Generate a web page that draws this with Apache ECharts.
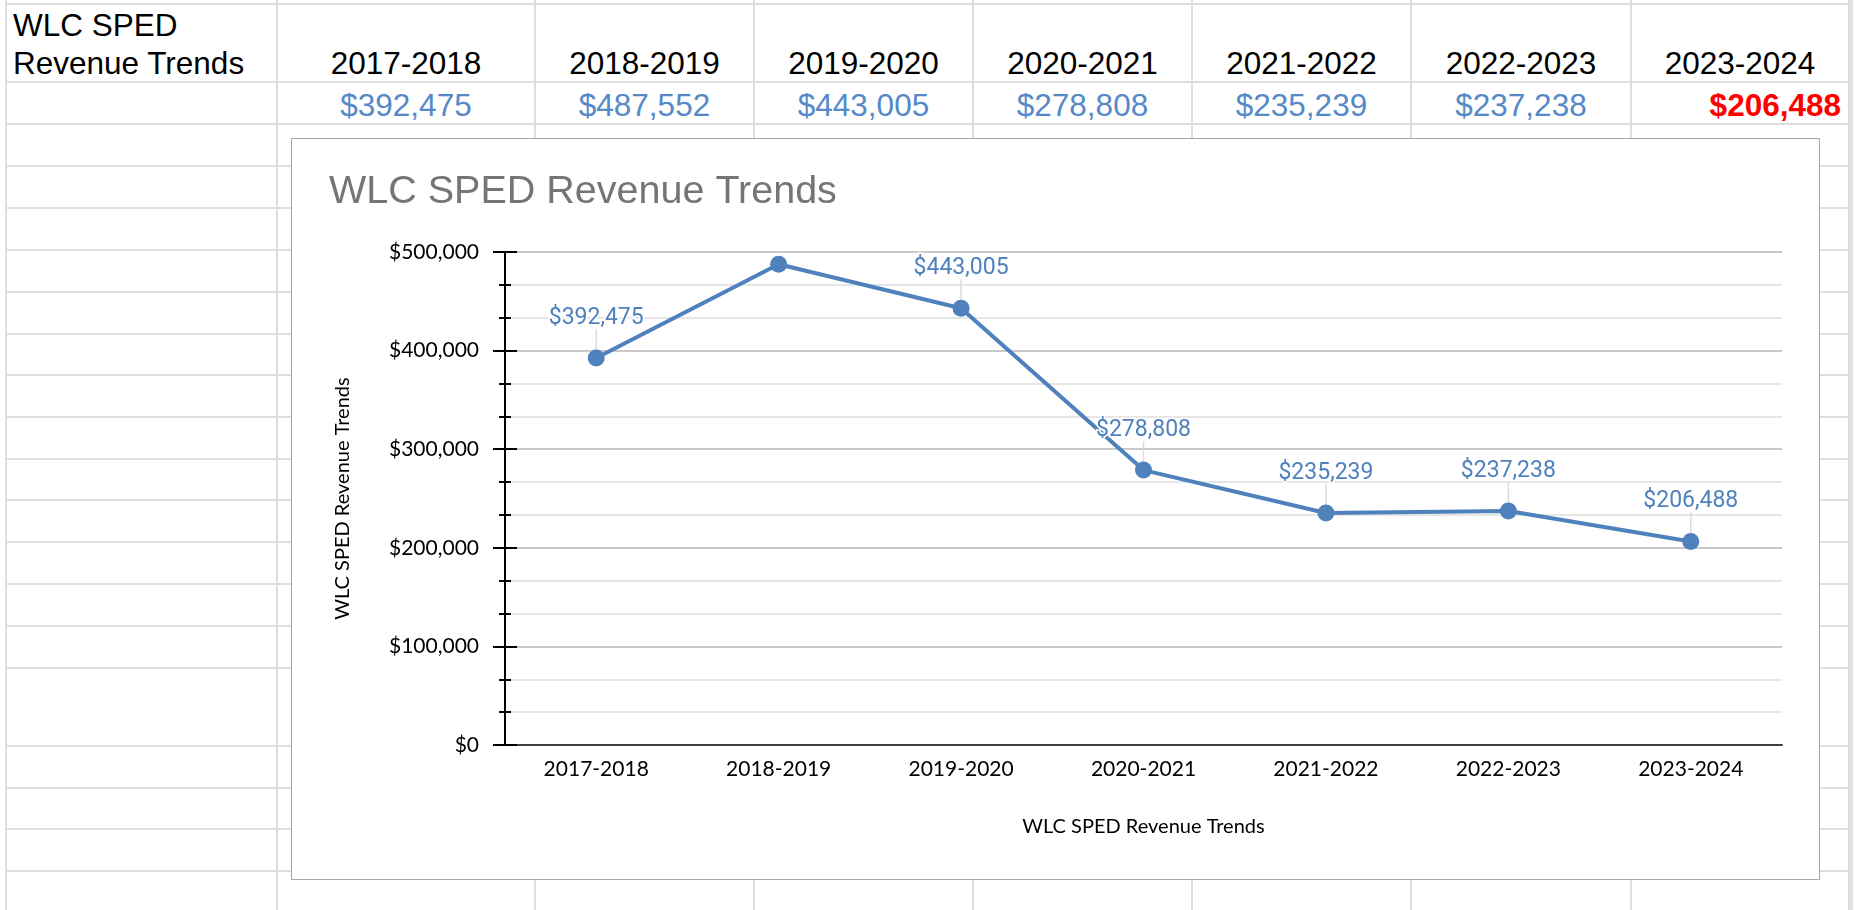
<!DOCTYPE html>
<html>
<head>
<meta charset="utf-8">
<script src="https://cdn.jsdelivr.net/npm/echarts@6/dist/echarts.min.js"></script>
<style>
  html, body { margin: 0; padding: 0; background: #fff; }
  #sheet { position: relative; width: 1860px; height: 910px; overflow: hidden; font-family: "Liberation Sans", Arial, sans-serif; }
  .vline { position: absolute; width: 2px; background: #dedede; }
  .hline { position: absolute; height: 2px; background: #dedede; }
  .cell { position: absolute; font-size: 31.5px; color: #000; white-space: nowrap; }
  #box { position: absolute; left: 291px; top: 138px; width: 1527px; height: 740px; background: #fff; border: 1px solid #a8a8a8; }
  #main { position: absolute; left: 0; top: 0; width: 1860px; height: 910px; }
</style>
</head>
<body>
<div id="sheet">
  <div id="box"></div>
  <!-- 图表铺满整页, 坐标直接按页面像素 -->
  <div id="main"></div>
</div>
<script>
// 数据
const sheetTitle = ['WLC SPED', 'Revenue Trends'];
const chartTitle = 'WLC SPED Revenue Trends';
const years = ['2017-2018', '2018-2019', '2019-2020', '2020-2021', '2021-2022', '2022-2023', '2023-2024'];
const revenue = [392475, 487552, 443005, 278808, 235239, 237238, 206488];
const yTicks = [0, 100000, 200000, 300000, 400000, 500000];

// 表格网格位置
const colX = [6, 277, 535, 754, 973, 1192, 1411, 1631, 1849];
const rowY = [4, 82, 124, 166, 208, 250, 292, 334, 375, 417, 459, 500, 542, 584, 626, 668, 746, 788, 829, 871, 913];

const money = v => '$' + v.toLocaleString('en-US');

const sheet = document.getElementById('sheet');
const box = document.getElementById('box');
function add(cls, css, text) {
  const d = document.createElement('div');
  d.className = cls;
  Object.assign(d.style, css);
  if (text) d.textContent = text;
  sheet.insertBefore(d, box);
  return d;
}
colX.forEach(x => add('vline', { left: (x - 1) + 'px', top: '0px', height: '910px' }));
rowY.forEach(y => add('hline', { left: '5px', width: '1846px', top: (y - 1) + 'px' }));
add('vline', { left: '1850px', top: '0px', height: '910px', width: '3px', background: '#e4e4e4' });

// 左上角标题
add('cell', { left: '13px', top: '35px', lineHeight: '38px', transform: 'translateY(-29px)' }, sheetTitle[0]);
add('cell', { left: '13px', top: '73px', lineHeight: '38px', transform: 'translateY(-29px)' }, sheetTitle[1]);

years.forEach((yr, i) => {
  const l = colX[i + 1], w = colX[i + 2] - colX[i + 1];
  add('cell', { left: l + 'px', width: w + 'px', textAlign: 'center', top: '44px', lineHeight: '38px' }, yr);
  const last = i === years.length - 1;
  add('cell', {
    left: l + 'px', width: (w - 8) + 'px', top: '86px', lineHeight: '38px',
    textAlign: last ? 'right' : 'center',
    color: last ? '#ff0000' : '#5689c8',
    fontWeight: last ? 'bold' : 'normal',
    paddingLeft: last ? '0px' : '4px'
  }, money(revenue[i]));
});

var myChart = echarts.init(document.getElementById('main'));

// 第二个数据点没有标签
const lineData = revenue.map((v, i) => i === 1 ? { value: v, label: { show: false } } : v);
const guideData = revenue.map((v, i) => [i, v]).filter(d => d[0] !== 1);

const font = 'Lato, "Open Sans", sans-serif';
const yBase = {
  type: 'value',
  min: yTicks[0],
  max: yTicks[yTicks.length - 1],
  interval: yTicks[1] - yTicks[0],
  position: 'left',
  axisLine: { show: true, lineStyle: { color: '#000', width: 2 } },
  minorTick: { show: true, splitNumber: 3, length: 6, lineStyle: { color: '#000', width: 2 } }
};

const option = {
  animation: false,
  title: {
    text: chartTitle,
    left: 329,
    top: 172,
    padding: 0,
    textStyle: { fontFamily: '"Liberation Sans", Arial, sans-serif', fontWeight: 'normal', fontSize: 39.5, color: '#757575' }
  },
  grid: { left: 505, right: 78, top: 252, bottom: 165, containLabel: false },
  xAxis: {
    type: 'category',
    data: years,
    boundaryGap: true,
    axisLine: { lineStyle: { color: '#404040', width: 2 } },
    axisTick: { show: false },
    axisLabel: { fontFamily: font, fontSize: 21, color: '#000', margin: 14 },
    name: chartTitle,
    nameLocation: 'middle',
    nameGap: 72,
    nameTextStyle: { fontFamily: font, fontSize: 20, color: '#000' }
  },
  yAxis: [
    Object.assign({}, yBase, {
      axisTick: { show: true, length: 12, lineStyle: { color: '#000', width: 2 } },
      axisLabel: { fontFamily: font, fontSize: 21, color: '#000', margin: 26, formatter: money },
      splitLine: { show: true, lineStyle: { color: '#c9c9c9', width: 2 } },
      minorSplitLine: { show: true, lineStyle: { color: '#e6e6e6', width: 2 } },
      name: chartTitle,
      nameLocation: 'middle',
      nameRotate: 90,
      nameGap: 152,
      nameTextStyle: { fontFamily: font, fontSize: 20, color: '#000' }
    }),
    Object.assign({}, yBase, {
      axisTick: { show: true, inside: true, length: 12, lineStyle: { color: '#000', width: 2 } },
      axisLabel: { show: false },
      splitLine: { show: false }
    })
  ],
  series: [
    {
      // 标签引导线
      type: 'custom',
      data: guideData,
      z: 1,
      silent: true,
      renderItem: function (params, api) {
        const p = api.coord([api.value(0), api.value(1)]);
        return {
          type: 'line',
          shape: { x1: p[0], y1: p[1] - 8, x2: p[0], y2: p[1] - 29 },
          style: { stroke: '#dcdcdc', lineWidth: 1.5 }
        };
      }
    },
    {
      type: 'line',
      data: lineData,
      z: 3,
      color: '#4f81bd',
      lineStyle: { width: 4, color: '#4f81bd' },
      symbol: 'circle',
      symbolSize: 17,
      itemStyle: { color: '#4f81bd' },
      label: {
        show: true,
        position: 'top',
        distance: 20,
        formatter: p => money(p.value),
        fontFamily: 'Roboto, sans-serif',
        fontSize: 23,
        color: '#4f81bd',
        textBorderColor: '#fff',
        textBorderWidth: 3
      }
    }
  ]
};

myChart.setOption(option);

window.addEventListener("resize", function () {
  myChart.resize();
});
</script>
</body>
</html>
